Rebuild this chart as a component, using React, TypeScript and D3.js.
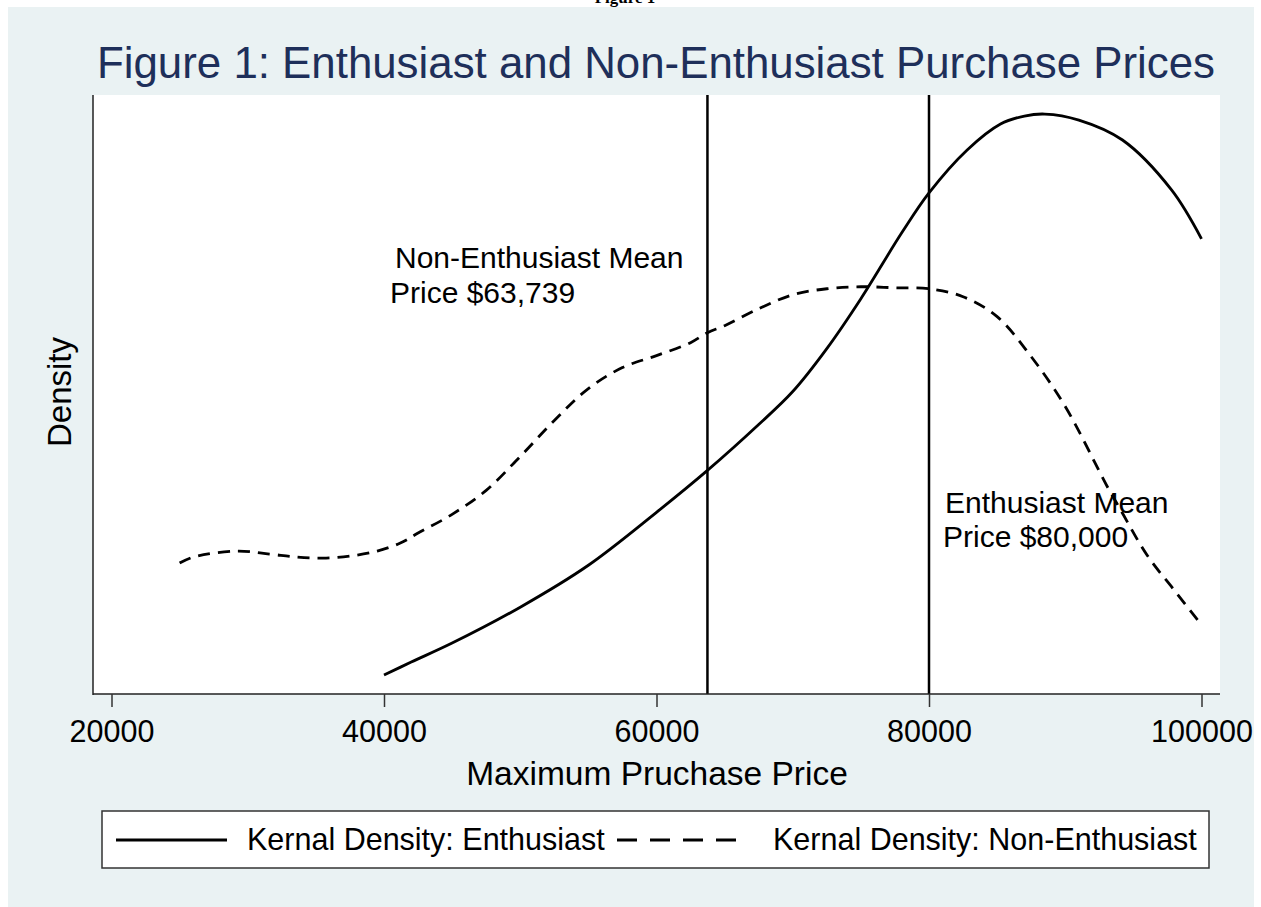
import React, { useRef, useEffect } from "react";
import * as d3 from "d3";

// density (arbitrary units, x 1e-5)
const enthPrice = [40000, 42000, 45000, 50000, 55000, 60000, 63739, 67500, 70000, 72500, 75000, 78000, 80000, 82800, 85250, 87000, 88500, 91000, 94200, 97800, 100000];
const enthDensity = [0.095, 0.16, 0.255, 0.435, 0.645, 0.91, 1.12, 1.35, 1.515, 1.73, 1.98, 2.31, 2.51, 2.725, 2.855, 2.895, 2.905, 2.875, 2.775, 2.525, 2.28];

const nonPrice = [25000, 26000, 29200, 31600, 33600, 35500, 37500, 39500, 41200, 42500, 45000, 47500, 50000, 52500, 55000, 57500, 60000, 62500, 63739, 65000, 67500, 70000, 72500, 75000, 77500, 80000, 82500, 85000, 87500, 90000, 93100, 94000, 96000, 98000, 100000];
const nonDensity = [0.656, 0.686, 0.716, 0.701, 0.686, 0.681, 0.691, 0.716, 0.756, 0.806, 0.9, 1.02, 1.19, 1.37, 1.53, 1.635, 1.695, 1.76, 1.81, 1.845, 1.93, 2.0, 2.03, 2.04, 2.035, 2.03, 1.99, 1.89, 1.69, 1.44, 1.037, 0.93, 0.696, 0.52, 0.346];

const meanLines = [63739, 80000];
const xTicks = [20000, 40000, 60000, 80000, 100000];

const FONT = "'Liberation Sans', Arial, sans-serif";

const App = () => {
  const ref = useRef<SVGSVGElement>(null);

  useEffect(() => {
    const W = 1261, H = 907;
    const left = 93, right = 1220, top = 95, bottom = 694;
    const svg = d3.select(ref.current).attr("width", W).attr("height", H);

    svg.append("rect").attr("width", W).attr("height", H).attr("fill", "#fff");
    // caption of the page above, mostly cut off by the crop
    svg.append("text").attr("x", 625).attr("y", 3).attr("text-anchor", "middle")
      .attr("font-family", "'Liberation Serif', 'Times New Roman', serif").attr("font-weight", "bold")
      .attr("font-size", 17).attr("fill", "#000").text("Figure 1");
    svg.append("rect").attr("x", 8).attr("y", 7).attr("width", 1246).attr("height", H - 7).attr("fill", "#EAF2F3");
    svg.append("rect").attr("x", left).attr("y", top).attr("width", right - left).attr("height", bottom - top).attr("fill", "#fff");

    const x = d3.scaleLinear().domain([20000, 100000]).range([111.5, 1201.5]);
    const y = d3.scaleLinear().domain([0, 3]).range([bottom, top + 0.1]);

    svg.append("text").attr("x", 97).attr("y", 78).attr("font-family", FONT).attr("font-size", 43.5)
      .attr("fill", "#1e2f5a").attr("textLength", 1118).attr("lengthAdjust", "spacingAndGlyphs")
      .text("Figure 1: Enthusiast and Non-Enthusiast Purchase Prices");

    // mean lines
    meanLines.forEach((m) => {
      svg.append("line").attr("x1", x(m)).attr("x2", x(m)).attr("y1", top).attr("y2", bottom)
        .attr("stroke", "#000").attr("stroke-width", 2.5);
    });

    const line = d3.line<[number, number]>().x((d) => x(d[0])).y((d) => y(d[1])).curve(d3.curveCatmullRom);

    svg.append("path").attr("d", line(enthPrice.map((p, i) => [p, enthDensity[i]]) as [number, number][]))
      .attr("fill", "none").attr("stroke", "#000").attr("stroke-width", 2.8);
    svg.append("path").attr("d", line(nonPrice.map((p, i) => [p, nonDensity[i]]) as [number, number][]))
      .attr("fill", "none").attr("stroke", "#000").attr("stroke-width", 2.8).attr("stroke-dasharray", "12,8");

    // annotations
    const ann = svg.append("g").attr("font-family", FONT).attr("font-size", 30).attr("fill", "#000");
    ann.append("text").attr("x", 395).attr("y", 268).text("Non-Enthusiast Mean");
    ann.append("text").attr("x", 390).attr("y", 303).text("Price $63,739");
    ann.append("text").attr("x", 945).attr("y", 513).text("Enthusiast Mean");
    ann.append("text").attr("x", 943).attr("y", 547).text("Price $80,000");

    // axes
    svg.append("line").attr("x1", left).attr("x2", left).attr("y1", top).attr("y2", bottom + 1).attr("stroke", "#222").attr("stroke-width", 1.5);
    const xAxis = svg.append("g").attr("transform", `translate(0,${bottom})`)
      .call(d3.axisBottom(x).tickValues(xTicks).tickSize(13).tickPadding(10).tickFormat(d3.format("d")));
    xAxis.select(".domain").attr("d", `M${left},0H${right}`).attr("stroke", "#222").attr("stroke-width", 1.5);
    xAxis.selectAll(".tick line").attr("stroke", "#333").attr("stroke-width", 1.5);
    xAxis.selectAll(".tick text").attr("font-family", FONT).attr("font-size", 30.5).attr("fill", "#000")
      .attr("dy", null).attr("y", 48);

    svg.append("text").attr("x", 657).attr("y", 785).attr("text-anchor", "middle").attr("font-family", FONT)
      .attr("font-size", 33.5).attr("fill", "#000").text("Maximum Pruchase Price");
    svg.append("text").attr("transform", "translate(71,392) rotate(-90)").attr("text-anchor", "middle")
      .attr("font-family", FONT).attr("font-size", 33).attr("fill", "#000").text("Density");

    // legend
    const lg = svg.append("g");
    lg.append("rect").attr("x", 102).attr("y", 811).attr("width", 1107).attr("height", 57)
      .attr("fill", "#fff").attr("stroke", "#333").attr("stroke-width", 1.5);
    lg.append("line").attr("x1", 116).attr("x2", 227).attr("y1", 840).attr("y2", 840).attr("stroke", "#000").attr("stroke-width", 2.8);
    lg.append("line").attr("x1", 617).attr("x2", 742).attr("y1", 840).attr("y2", 840).attr("stroke", "#000").attr("stroke-width", 2.8).attr("stroke-dasharray", "20,13");
    lg.append("text").attr("x", 247).attr("y", 850).attr("font-family", FONT).attr("font-size", 30.5).attr("fill", "#000").text("Kernal Density: Enthusiast");
    lg.append("text").attr("x", 773).attr("y", 850).attr("font-family", FONT).attr("font-size", 30.5).attr("fill", "#000").text("Kernal Density: Non-Enthusiast");

    return () => {
      d3.select(ref.current).selectAll("*").remove();
    };
  }, []);

  return <svg ref={ref} style={{ position: "absolute", left: 0, top: 0 }}></svg>;
};

export default App;
